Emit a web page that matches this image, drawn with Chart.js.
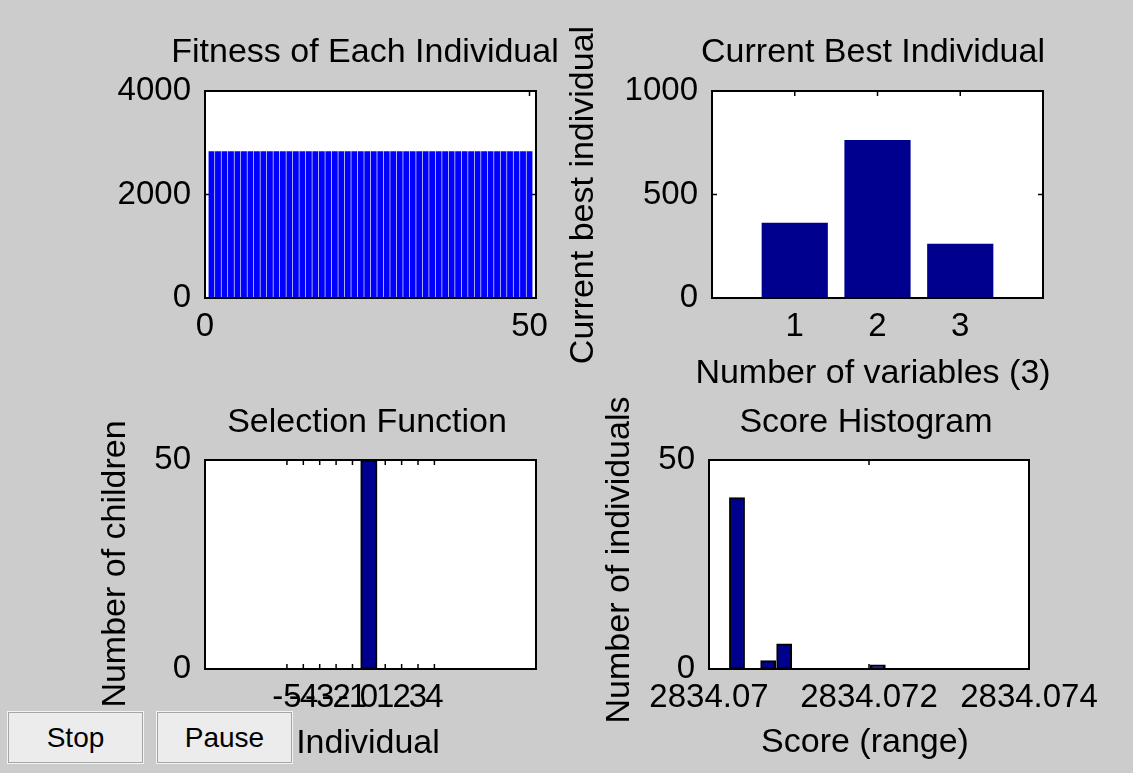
<!DOCTYPE html>
<html>
<head>
<meta charset="utf-8">
<title>Genetic Algorithm</title>
<script src="https://cdn.jsdelivr.net/npm/chart.js@4.4.1/dist/chart.umd.min.js"></script>
<style>
  body { margin: 0; background: #cccccc; width: 1133px; height: 773px; overflow: hidden; position: relative; }
  canvas { position: absolute; left: 0; top: 0; }
  button {
    position: absolute; top: 712px; width: 135px; height: 51px; padding: 0;
    background: #ececec; border: 1px solid #a6a6a6; outline: 1px solid #f4f4f4;
    font: 28px "Liberation Sans", Arial, sans-serif; color: #000;
  }
</style>
</head>
<body>
<canvas id="fitChart" width="1133" height="773"></canvas>
<canvas id="bestChart" width="1133" height="773"></canvas>
<canvas id="selChart" width="1133" height="773"></canvas>
<canvas id="scoreChart" width="1133" height="773"></canvas>
<button style="left:8px">Stop</button>
<button style="left:157px">Pause</button>
<script>
// fitness of each individual
const individuals = [1, 2, 3, 4, 5, 6, 7, 8, 9, 10, 11, 12, 13, 14, 15, 16, 17, 18, 19, 20,
  21, 22, 23, 24, 25, 26, 27, 28, 29, 30, 31, 32, 33, 34, 35, 36, 37, 38, 39, 40,
  41, 42, 43, 44, 45, 46, 47, 48, 49, 50];
const fitness = [2834.0704, 2834.0704, 2834.0704, 2834.0704, 2834.0709, 2834.0704, 2834.0704, 2834.0704, 2834.0707, 2834.0704,
  2834.0704, 2834.0709, 2834.0704, 2834.0704, 2834.0704, 2834.0704, 2834.0704, 2834.0721, 2834.0704, 2834.0704,
  2834.0709, 2834.0704, 2834.0704, 2834.0704, 2834.0704, 2834.0704, 2834.0704, 2834.0709, 2834.0704, 2834.0704,
  2834.0704, 2834.0704, 2834.0707, 2834.0704, 2834.0704, 2834.0709, 2834.0704, 2834.0704, 2834.0704, 2834.0704,
  2834.0704, 2834.0704, 2834.0709, 2834.0704, 2834.0704, 2834.0704, 2834.0704, 2834.0704, 2834.0709, 2834.0704];
const fitTicksX = [0, 50];
const fitTicksY = [0, 2000, 4000];

// current best individual
const variables = [1, 2, 3];
const bestIndividual = [364, 763, 262];
const bestTicksY = [0, 500, 1000];

// selection function
const selIndividual = [0];
const selChildren = [50];
const selTicksX = [-5, -4, -3, -2, -1, 0, 1, 2, 3, 4];
const selTicksY = [0, 50];

// score histogram
const scoreBins = [2834.07035, 2834.07054, 2834.07074, 2834.07094, 2834.07113,
  2834.07133, 2834.07152, 2834.07172, 2834.07192, 2834.07211];
const scoreCounts = [41, 0, 2, 6, 0, 0, 0, 0, 0, 1];
const scoreTicksX = [2834.07, 2834.072, 2834.074];
const scoreTickLabels = ['2834.07', '2834.072', '2834.074'];
const scoreTicksY = [0, 50];

const W = 1133, H = 773;
const FONT = '"Liberation Sans", Arial, sans-serif';
Chart.defaults.font.family = FONT;
Chart.defaults.font.size = 33;
Chart.defaults.color = '#000';

// white axes box, inward ticks on all sides, black frame, titles/labels
const matlabAxes = {
  id: 'matlabAxes',
  beforeDraw(chart) {
    const a = chart.chartArea, ctx = chart.ctx;
    ctx.save();
    ctx.fillStyle = '#fff';
    ctx.fillRect(a.left, a.top, a.width, a.height);
    ctx.restore();
  },
  beforeDatasetsDraw(chart) {
    const a = chart.chartArea, ctx = chart.ctx;
    const len = 5;
    ctx.save();
    ctx.strokeStyle = '#000';
    ctx.lineWidth = 1.5;
    ctx.beginPath();
    chart.scales.x.ticks.forEach(t => {
      const px = chart.scales.x.getPixelForValue(t.value);
      ctx.moveTo(px, a.bottom); ctx.lineTo(px, a.bottom - len);
      ctx.moveTo(px, a.top); ctx.lineTo(px, a.top + len);
    });
    chart.scales.y.ticks.forEach(t => {
      const py = chart.scales.y.getPixelForValue(t.value);
      ctx.moveTo(a.left, py); ctx.lineTo(a.left + len, py);
      ctx.moveTo(a.right, py); ctx.lineTo(a.right - len, py);
    });
    ctx.stroke();
    ctx.restore();
  },
  afterDatasetsDraw(chart) {
    const a = chart.chartArea, ctx = chart.ctx;
    ctx.save();
    ctx.strokeStyle = '#000';
    ctx.lineWidth = 2;
    ctx.strokeRect(a.left, a.top, a.width, a.height);
    ctx.restore();
  },
  afterDraw(chart, args, opts) {
    const ctx = chart.ctx;
    ctx.save();
    ctx.fillStyle = '#000';
    ctx.font = '34px ' + FONT;
    ctx.textAlign = 'center';
    ctx.textBaseline = 'alphabetic';
    (opts.texts || []).forEach(t => {
      ctx.save();
      ctx.translate(t.x, t.y);
      if (t.rot) ctx.rotate(-Math.PI / 2);
      ctx.fillText(t.text, 0, 0);
      ctx.restore();
    });
    ctx.restore();
  }
};

function makeChart(id, cfg) {
  const [bx, by, bw, bh] = cfg.box;
  return new Chart(document.getElementById(id), {
    type: 'bar',
    data: {
      datasets: [{
        data: cfg.xs.map((x, i) => ({ x: x, y: cfg.ys[i] })),
        backgroundColor: cfg.color,
        borderColor: '#000',
        borderWidth: cfg.border,
        borderSkipped: false,
        barPercentage: cfg.barPct,
        categoryPercentage: 1
      }]
    },
    options: {
      responsive: false,
      animation: false,
      events: [],
      layout: { padding: { top: by, left: 0, right: W - bx - bw, bottom: 0 } },
      plugins: {
        legend: { display: false },
        tooltip: { enabled: false },
        matlabAxes: { texts: cfg.texts }
      },
      scales: {
        x: {
          type: 'linear', min: cfg.xRange[0], max: cfg.xRange[1], offset: false,
          grid: { display: false, drawTicks: false }, border: { display: false },
          afterBuildTicks: s => { s.ticks = cfg.xTicks.map(v => ({ value: v })); },
          afterFit: s => { s.height = H - by - bh; },
          ticks: {
            autoSkip: false, maxRotation: 0, minRotation: 0, padding: 9,
            callback: (v, i) => cfg.xLabels ? cfg.xLabels[i] : String(v)
          }
        },
        y: {
          type: 'linear', min: cfg.yRange[0], max: cfg.yRange[1],
          grid: { display: false, drawTicks: false }, border: { display: false },
          afterBuildTicks: s => { s.ticks = cfg.yTicks.map(v => ({ value: v })); },
          afterFit: s => { s.width = bx; },
          ticks: { padding: 14, callback: v => String(v) }
        }
      }
    },
    plugins: [matlabAxes]
  });
}

makeChart('fitChart', {
  box: [205, 91, 331, 207],
  xs: individuals, ys: fitness, color: '#0000ff', border: 0, barPct: 0.9,
  xRange: [0, 51], yRange: [0, 4000], xTicks: fitTicksX, yTicks: fitTicksY,
  texts: [{ text: 'Fitness of Each Individual', x: 365, y: 62 }]
});

makeChart('bestChart', {
  box: [712, 91, 331, 207],
  xs: variables, ys: bestIndividual, color: '#00008f', border: 0, barPct: 0.8,
  xRange: [0, 4], yRange: [0, 1000], xTicks: variables, yTicks: bestTicksY,
  texts: [
    { text: 'Current Best Individual', x: 873, y: 62 },
    { text: 'Current best individual', x: 593, y: 195, rot: true },
    { text: 'Number of variables (3)', x: 873, y: 383 }
  ]
});

makeChart('selChart', {
  box: [205, 460, 331, 209],
  xs: selIndividual, ys: selChildren, color: '#00008f', border: 2, barPct: 1,
  xRange: [-10, 10.2], yRange: [0, 50], xTicks: selTicksX, yTicks: selTicksY,
  texts: [
    { text: 'Selection Function', x: 367, y: 432 },
    { text: 'Number of children', x: 125, y: 564, rot: true },
    { text: 'Individual', x: 368, y: 753 }
  ]
});

makeChart('scoreChart', {
  box: [709, 460, 320, 209],
  xs: scoreBins, ys: scoreCounts, color: '#00008f', border: 2, barPct: 1,
  xRange: [2834.07, 2834.074], yRange: [0, 50], xTicks: scoreTicksX, xLabels: scoreTickLabels, yTicks: scoreTicksY,
  texts: [
    { text: 'Score Histogram', x: 866, y: 432 },
    { text: 'Number of individuals', x: 629, y: 560, rot: true },
    { text: 'Score (range)', x: 865, y: 752 }
  ]
});
</script>
</body>
</html>
